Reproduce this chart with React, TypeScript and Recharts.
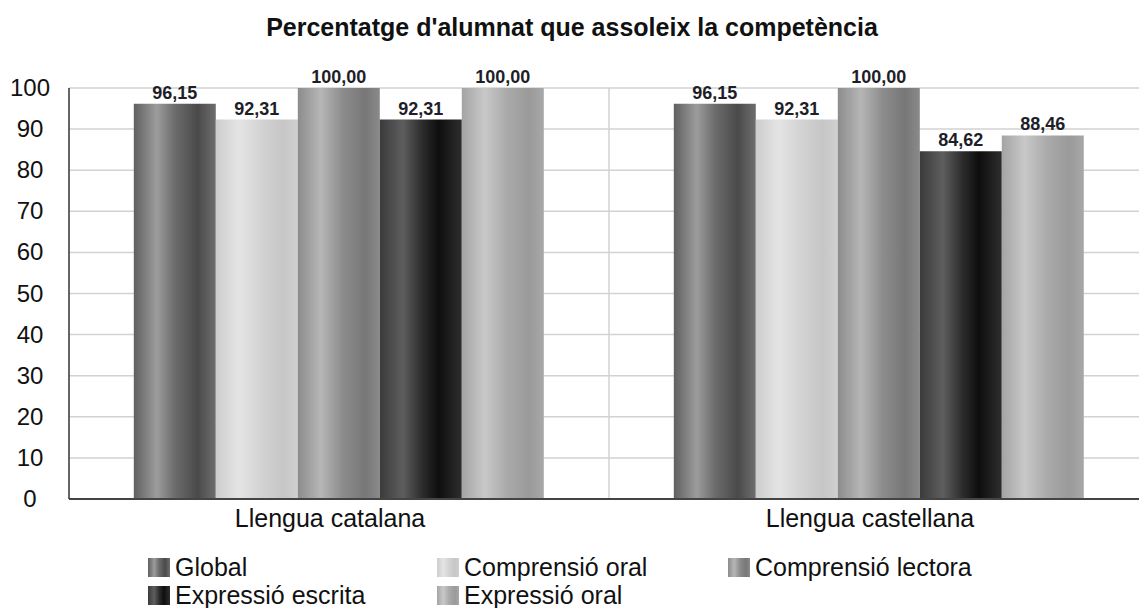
import { Bar, BarChart, CartesianGrid, LabelList, XAxis, YAxis } from 'recharts';

const categories = ['Llengua catalana', 'Llengua castellana'];
const globalValues = [96.15, 96.15];
const comprensioOral = [92.31, 92.31];
const comprensioLectora = [100, 100];
const expressioEscrita = [92.31, 84.62];
const expressioOral = [100, 88.46];
const yTicks = [0, 10, 20, 30, 40, 50, 60, 70, 80, 90, 100];

type Stop = [number, string];

// cylinder-like shading of each bar, left to right
const series: { key: string; name: string; values: number[]; stops: Stop[] }[] = [
  {
    key: 'global',
    name: 'Global',
    values: globalValues,
    stops: [[0, '#606060'], [0.28, '#9c9c9c'], [0.5, '#6c6c6c'], [0.78, '#4a4a4a'], [1, '#6e6e6e']],
  },
  {
    key: 'comprensioOral',
    name: 'Comprensió oral',
    values: comprensioOral,
    stops: [[0, '#cdcdcd'], [0.28, '#e4e4e4'], [0.55, '#d3d3d3'], [0.82, '#c6c6c6'], [1, '#d0d0d0']],
  },
  {
    key: 'comprensioLectora',
    name: 'Comprensió lectora',
    values: comprensioLectora,
    stops: [[0, '#8c8c8c'], [0.28, '#b6b6b6'], [0.55, '#8c8c8c'], [0.82, '#777777'], [1, '#8a8a8a']],
  },
  {
    key: 'expressioEscrita',
    name: 'Expressió escrita',
    values: expressioEscrita,
    stops: [[0, '#3a3a3a'], [0.28, '#5e5e5e'], [0.52, '#2c2c2c'], [0.72, '#0e0e0e'], [1, '#2e2e2e']],
  },
  {
    key: 'expressioOral',
    name: 'Expressió oral',
    values: expressioOral,
    stops: [[0, '#a4a4a4'], [0.28, '#c8c8c8'], [0.55, '#aaaaaa'], [0.82, '#9a9a9a'], [1, '#a8a8a8']],
  },
];

const data = categories.map((name, i) => {
  const row: Record<string, string | number> = { name };
  series.forEach((s) => {
    row[s.key] = s.values[i];
  });
  return row;
});

const FONT = '"Liberation Sans", Arial, sans-serif';

const formatValue = (v: unknown) => Number(v).toFixed(2).replace('.', ',');

const YTick = ({ y, payload }: any) => (
  <text x={30} y={y} dy={8} textAnchor="middle" fontSize={24} fontFamily={FONT} fill="#111">
    {payload.value}
  </text>
);

const XTick = ({ x, y, payload }: any) => (
  <text x={x - 9} y={y + 20} textAnchor="middle" fontSize={25} fontFamily={FONT} fill="#111">
    {payload.value}
  </text>
);

const legendRows = [
  [0, 1, 2],
  [3, 4],
];
const legendCols = [148, 437, 728];
const legendRowY = [567, 595];

export default function App() {
  return (
    <div
      style={{
        position: 'absolute',
        left: 0,
        top: 0,
        width: 1139,
        height: 608,
        overflow: 'hidden',
        background: '#fff',
        fontFamily: FONT,
      }}
    >
      <div
        style={{
          position: 'absolute',
          left: 0,
          top: 15,
          width: 1144,
          textAlign: 'center',
          fontSize: 25,
          lineHeight: '25px',
          fontWeight: 'bold',
          color: '#111',
        }}
      >
        Percentatge d'alumnat que assoleix la competència
      </div>

      <BarChart
        width={1160}
        height={608}
        data={data}
        margin={{ top: 88, right: 11, left: 0, bottom: 69 }}
        barCategoryGap="12%"
        barGap={0}
      >
        <defs>
          {series.map((s) => (
            <linearGradient key={s.key} id={`grad-${s.key}`} x1="0" y1="0" x2="1" y2="0">
              {s.stops.map(([o, c]) => (
                <stop key={o} offset={o} stopColor={c} />
              ))}
            </linearGradient>
          ))}
        </defs>
        <CartesianGrid
          stroke="#d2d2d2"
          strokeWidth={1.5}
          verticalCoordinatesGenerator={({ offset }: any) => [offset.left + offset.width / 2]}
        />
        <XAxis
          dataKey="name"
          height={40}
          tickLine={false}
          axisLine={{ stroke: '#444', strokeWidth: 2 }}
          tick={<XTick />}
          interval={0}
        />
        <YAxis
          width={69}
          domain={[0, 100]}
          ticks={yTicks}
          interval={0}
          tickLine={false}
          axisLine={{ stroke: '#333', strokeWidth: 1.5 }}
          tick={<YTick />}
        />
        {series.map((s) => (
          <Bar key={s.key} dataKey={s.key} name={s.name} fill={`url(#grad-${s.key})`} isAnimationActive={false}>
            <LabelList
              dataKey={s.key}
              position="top"
              offset={5}
              formatter={formatValue}
              style={{ fontSize: 18, fontWeight: 'bold', fill: '#1e1e28', fontFamily: FONT }}
            />
          </Bar>
        ))}
      </BarChart>

      {legendRows.map((row, r) =>
        row.map((idx, c) => {
          const s = series[idx];
          const grad = `linear-gradient(to right, ${s.stops
            .map(([o, col]) => `${col} ${o * 100}%`)
            .join(', ')})`;
          return (
            <div
              key={s.key}
              style={{
                position: 'absolute',
                left: legendCols[c],
                top: legendRowY[r] - 14,
                height: 28,
                display: 'flex',
                alignItems: 'center',
                fontSize: 25,
                color: '#111',
                whiteSpace: 'nowrap',
              }}
            >
              <span style={{ display: 'inline-block', width: 22, height: 19, background: grad, marginRight: 5 }} />
              {s.name}
            </div>
          );
        })
      )}
    </div>
  );
}
